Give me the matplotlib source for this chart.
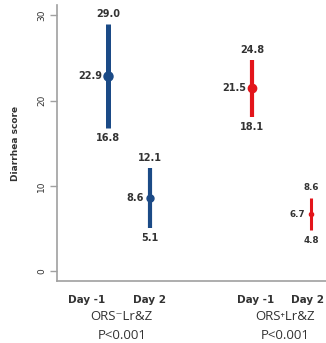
import matplotlib
matplotlib.use('Agg')
import matplotlib.pyplot as plt

# --- Data ---
groups = ['ORS\u207bLr&Z', 'ORS\u207aLr&Z']
p_values = ['P<0.001', 'P<0.001']
day_labels = ['Day -1', 'Day 2', 'Day -1', 'Day 2']
means = [22.9, 8.6, 21.5, 6.7]
upper = [29.0, 12.1, 24.8, 8.6]
lower = [16.8, 5.1, 18.1, 4.8]
series_group = [0, 0, 1, 1]
y_ticks = [0, 10, 20, 30]

# --- Layout ---
x_pos = [1.0, 2.0, 4.43, 5.83]
label_pos = [0.5, 1.98, 4.52, 5.74]
group_pos = [1.33, 5.21]
colors = ['#1b4a86', '#e3151b']
line_w = [3.6, 3.0, 3.0, 2.2]
mark_s = [6.5, 5.0, 6.0, 3.0]
TXT = '#333333'
AX = '#a0a0a0'

fig = plt.figure(figsize=(3.26, 3.43), dpi=100)
ax = fig.add_axes([57 / 326, 62 / 343, 1 - 57 / 326, (281 - 5) / 343])

for i in range(len(means)):
    c = colors[series_group[i]]
    ax.vlines(x_pos[i], lower[i], upper[i], color=c, lw=line_w[i], zorder=2)
    ax.plot(x_pos[i], means[i], 'o', color=c, ms=mark_s[i], zorder=3)
    fs = 7 if i < 3 else 6.3
    ax.annotate(f'{upper[i]:.1f}', (x_pos[i], upper[i]), xytext=(0, 10),
                textcoords='offset pixels', ha='center', va='center',
                fontsize=fs, color=TXT, fontweight='bold')
    ax.annotate(f'{lower[i]:.1f}', (x_pos[i], lower[i]), xytext=(0, -10),
                textcoords='offset pixels', ha='center', va='center',
                fontsize=fs, color=TXT, fontweight='bold')
    ax.annotate(f'{means[i]:.1f}', (x_pos[i], means[i]), xytext=(-6, 0),
                textcoords='offset pixels', ha='right', va='center',
                fontsize=fs, color=TXT, fontweight='bold')

ax.set_xlim(-0.214, 6.19)
ax.set_ylim(-1.15, 31.2)
ax.set_yticks(y_ticks)
ax.set_yticklabels([str(t) for t in y_ticks], rotation=90, va='center',
                   fontsize=6.5, color=TXT)
ax.set_xticks(label_pos)
ax.set_xticklabels(day_labels, fontsize=7.5, fontweight='bold', color=TXT)
ax.tick_params(axis='x', length=0, pad=10)
ax.tick_params(axis='y', length=5, width=1, color=AX, pad=3)
ax.set_ylabel('Diarrhea score', fontsize=6.5, fontweight='bold', color=TXT,
              labelpad=12)

for s in ['top', 'right']:
    ax.spines[s].set_visible(False)
for s in ['left', 'bottom']:
    ax.spines[s].set_color(AX)
    ax.spines[s].set_linewidth(1.2)

for g in range(len(groups)):
    ax.text(group_pos[g], -5.3, groups[g], transform=ax.transData,
            ha='center', va='center', fontsize=9.5, color=TXT,
            family=['Open Sans', 'DejaVu Sans'], clip_on=False)
    ax.text(group_pos[g], -7.5, p_values[g], transform=ax.transData,
            ha='center', va='center', fontsize=9.5, color=TXT,
            family=['Open Sans', 'DejaVu Sans'], clip_on=False)

fig.savefig('out.png', dpi=100)
